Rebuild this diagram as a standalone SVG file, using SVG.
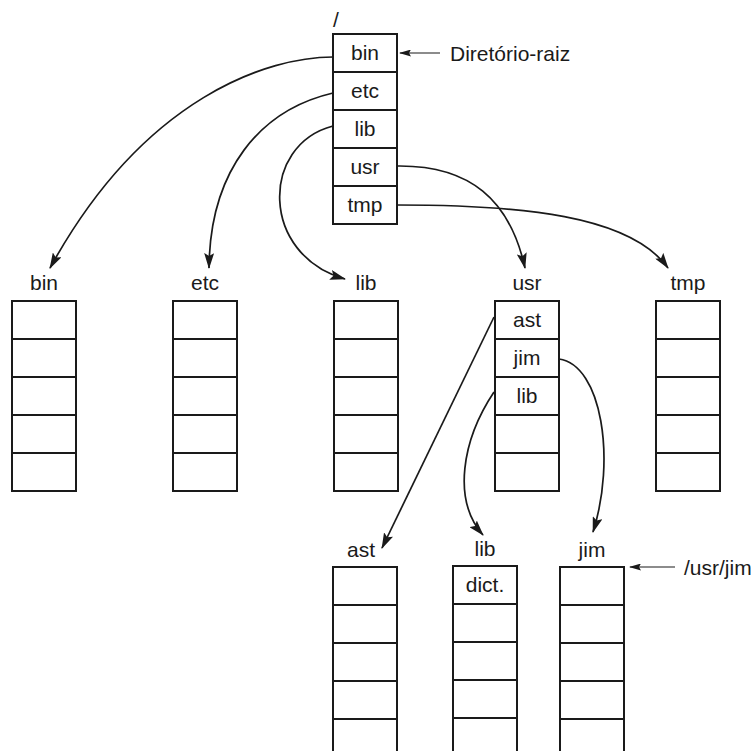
<svg xmlns="http://www.w3.org/2000/svg" width="752" height="751" viewBox="0 0 752 751">
<style>
.box{fill:#fff;stroke:#1a1a1a;stroke-width:2}
.sep{stroke:#1a1a1a;stroke-width:2}
text{font-family:"Liberation Sans",Arial,sans-serif;font-size:21px;fill:#1a1a1a}
.c{text-anchor:middle}
.conn{fill:none;stroke:#1a1a1a;stroke-width:1.7}
.thin{fill:none;stroke:#1a1a1a;stroke-width:1.1}
</style>
<defs>
<marker id="ah" markerUnits="userSpaceOnUse" viewBox="0 0 16 10" refX="15" refY="5" markerWidth="16" markerHeight="10" orient="auto">
<path d="M0,0 L16,5 L0,10 L3,5 z" fill="#1a1a1a"/>
</marker>
<marker id="ahs" markerUnits="userSpaceOnUse" viewBox="0 0 12 7" refX="11" refY="3.5" markerWidth="12" markerHeight="7" orient="auto">
<path d="M0,0 L12,3.5 L0,7 L2,3.5 z" fill="#1a1a1a"/>
</marker>
</defs>

<g id="root">
<text x="333" y="27">/</text>
<rect class="box" x="333" y="34" width="64" height="190"/>
<line class="sep" x1="333" y1="72" x2="397" y2="72"/>
<line class="sep" x1="333" y1="110" x2="397" y2="110"/>
<line class="sep" x1="333" y1="148" x2="397" y2="148"/>
<line class="sep" x1="333" y1="186" x2="397" y2="186"/>
<text class="c" x="365" y="60">bin</text>
<text class="c" x="365" y="98">etc</text>
<text class="c" x="365" y="136">lib</text>
<text class="c" x="365" y="174">usr</text>
<text class="c" x="365" y="212">tmp</text>
</g>

<g id="root-label">
<line class="thin" x1="440" y1="53" x2="400" y2="53" marker-end="url(#ahs)"/>
<text x="450" y="61">Diretório-raiz</text>
</g>

<g id="dir-bin">
<text class="c" x="44" y="290">bin</text>
<rect class="box" x="12" y="301" width="64" height="190"/>
<line class="sep" x1="12" y1="339" x2="76" y2="339"/>
<line class="sep" x1="12" y1="377" x2="76" y2="377"/>
<line class="sep" x1="12" y1="415" x2="76" y2="415"/>
<line class="sep" x1="12" y1="453" x2="76" y2="453"/>
</g>

<g id="dir-etc">
<text class="c" x="205" y="290">etc</text>
<rect class="box" x="173" y="301" width="64" height="190"/>
<line class="sep" x1="173" y1="339" x2="237" y2="339"/>
<line class="sep" x1="173" y1="377" x2="237" y2="377"/>
<line class="sep" x1="173" y1="415" x2="237" y2="415"/>
<line class="sep" x1="173" y1="453" x2="237" y2="453"/>
</g>

<g id="dir-lib">
<text class="c" x="366" y="290">lib</text>
<rect class="box" x="334" y="301" width="64" height="190"/>
<line class="sep" x1="334" y1="339" x2="398" y2="339"/>
<line class="sep" x1="334" y1="377" x2="398" y2="377"/>
<line class="sep" x1="334" y1="415" x2="398" y2="415"/>
<line class="sep" x1="334" y1="453" x2="398" y2="453"/>
</g>

<g id="dir-usr">
<text class="c" x="527" y="290">usr</text>
<rect class="box" x="495" y="301" width="64" height="190"/>
<line class="sep" x1="495" y1="339" x2="559" y2="339"/>
<line class="sep" x1="495" y1="377" x2="559" y2="377"/>
<line class="sep" x1="495" y1="415" x2="559" y2="415"/>
<line class="sep" x1="495" y1="453" x2="559" y2="453"/>
<text class="c" x="527" y="327">ast</text>
<text class="c" x="527" y="365">jim</text>
<text class="c" x="527" y="403">lib</text>
</g>

<g id="dir-tmp">
<text class="c" x="688" y="290">tmp</text>
<rect class="box" x="656" y="301" width="64" height="190"/>
<line class="sep" x1="656" y1="339" x2="720" y2="339"/>
<line class="sep" x1="656" y1="377" x2="720" y2="377"/>
<line class="sep" x1="656" y1="415" x2="720" y2="415"/>
<line class="sep" x1="656" y1="453" x2="720" y2="453"/>
</g>

<g id="dir-ast">
<text class="c" x="361" y="557">ast</text>
<rect class="box" x="333" y="567" width="64" height="190"/>
<line class="sep" x1="333" y1="605" x2="397" y2="605"/>
<line class="sep" x1="333" y1="643" x2="397" y2="643"/>
<line class="sep" x1="333" y1="681" x2="397" y2="681"/>
<line class="sep" x1="333" y1="719" x2="397" y2="719"/>
</g>

<g id="dir-usrlib">
<text class="c" x="485" y="556">lib</text>
<rect class="box" x="453" y="566" width="64" height="190"/>
<line class="sep" x1="453" y1="604" x2="517" y2="604"/>
<line class="sep" x1="453" y1="642" x2="517" y2="642"/>
<line class="sep" x1="453" y1="680" x2="517" y2="680"/>
<line class="sep" x1="453" y1="718" x2="517" y2="718"/>
<text class="c" x="485" y="592">dict.</text>
</g>

<g id="dir-jim">
<text class="c" x="592" y="557">jim</text>
<rect class="box" x="560" y="567" width="64" height="190"/>
<line class="sep" x1="560" y1="605" x2="624" y2="605"/>
<line class="sep" x1="560" y1="643" x2="624" y2="643"/>
<line class="sep" x1="560" y1="681" x2="624" y2="681"/>
<line class="sep" x1="560" y1="719" x2="624" y2="719"/>
</g>

<g id="jim-label">
<line class="thin" x1="675" y1="567" x2="630" y2="567" marker-end="url(#ahs)"/>
<text x="684" y="575">/usr/jim</text>
</g>

<g id="connectors">
<path class="conn" d="M333,57 C270,57 145,95 50,268" marker-end="url(#ah)"/>
<path class="conn" d="M333,93 C260,110 210,170 209,268" marker-end="url(#ah)"/>
<path class="conn" d="M333,126 C260,145 260,255 345,279" marker-end="url(#ah)"/>
<path class="conn" d="M397,166 C470,165 510,200 525,268" marker-end="url(#ah)"/>
<path class="conn" d="M397,205 C520,205 630,215 668,268" marker-end="url(#ah)"/>
<path class="conn" d="M494,317 L382,548" stroke-width="2.4" marker-end="url(#ah)"/>
<path class="conn" d="M494,392 C462,440 452,500 483,535" marker-end="url(#ah)"/>
<path class="conn" d="M559,359 C602,365 616,460 593,532" marker-end="url(#ah)"/>
</g>
</svg>
